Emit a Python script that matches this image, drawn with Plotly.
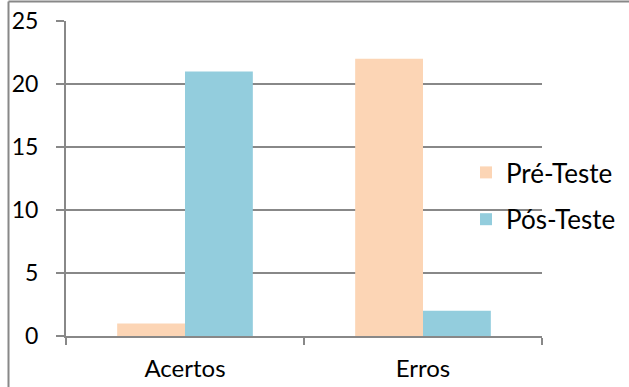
import plotly.graph_objects as go

# Dados do gráfico
categorias = ["Acertos", "Erros"]
pre_teste = [1, 22]
pos_teste = [21, 2]
series_nomes = ["Pré-Teste", "Pós-Teste"]
y_ticks = [0, 5, 10, 15, 20, 25]

cor_pre = "#FCD5B5"
cor_pos = "#93CDDD"
cinza = "#888888"
familia = "Lato, Calibri, sans-serif"
fonte = dict(family=familia, size=24, color="#000000")
fonte_y = dict(family=familia, size=23, color="#000000")
fonte_leg = dict(family=familia, size=26, color="#000000")

fig = go.Figure()
fig.add_trace(go.Bar(x=categorias, y=pre_teste, name=series_nomes[0],
                     marker=dict(color=cor_pre, line=dict(width=0)),
                     legendgroup="a"))
fig.add_trace(go.Bar(x=categorias, y=pos_teste, name=series_nomes[1],
                     marker=dict(color=cor_pos, line=dict(width=0)),
                     legendgroup="b"))

W, H = 629, 387
ml, mr, mt, mb = 66, 87, 21, 51
pw, ph = W - ml - mr, H - mt - mb

fig.update_layout(
    width=W, height=H,
    margin=dict(l=ml, r=mr, t=mt, b=mb, pad=0, autoexpand=False),
    paper_bgcolor="white", plot_bgcolor="white",
    barmode="group", bargap=0.43, bargroupgap=0,
    font=fonte,
    showlegend=True,
    legend=dict(x=(466 - ml) / pw, xanchor="left",
                y=(336 - 149) / ph, yanchor="top",
                font=fonte_leg, tracegroupgap=10,
                bgcolor="rgba(0,0,0,0)", borderwidth=0,
                itemclick=False),
    xaxis=dict(type="category", showline=True, linecolor=cinza, linewidth=2,
               ticks="outside", tickson="boundaries", ticklen=7,
               tickcolor=cinza, tickwidth=2, showgrid=False, automargin=False,
               tickfont=fonte, ticklabelstandoff=10),
    yaxis=dict(range=[0, 25], tickvals=y_ticks, showgrid=True,
               gridcolor=cinza, gridwidth=2, zeroline=False, automargin=False,
               showline=True, linecolor=cinza, linewidth=2,
               ticks="outside", ticklen=8, tickcolor=cinza, tickwidth=2,
               tickfont=fonte_y, ticklabelstandoff=13),
)

# Moldura do gráfico (bordas superior e esquerda)
x_borda = (8.5 - ml) / pw
y_borda = (H - mb - 1.5) / ph
fig.add_shape(type="line", xref="paper", yref="paper",
              x0=x_borda, x1=(W + 5 - ml) / pw, y0=y_borda, y1=y_borda,
              line=dict(color=cinza, width=2))
fig.add_shape(type="line", xref="paper", yref="paper",
              x0=x_borda, x1=x_borda, y0=y_borda, y1=-(mb + 5) / ph,
              line=dict(color=cinza, width=2))

fig.write_html("out.html")
